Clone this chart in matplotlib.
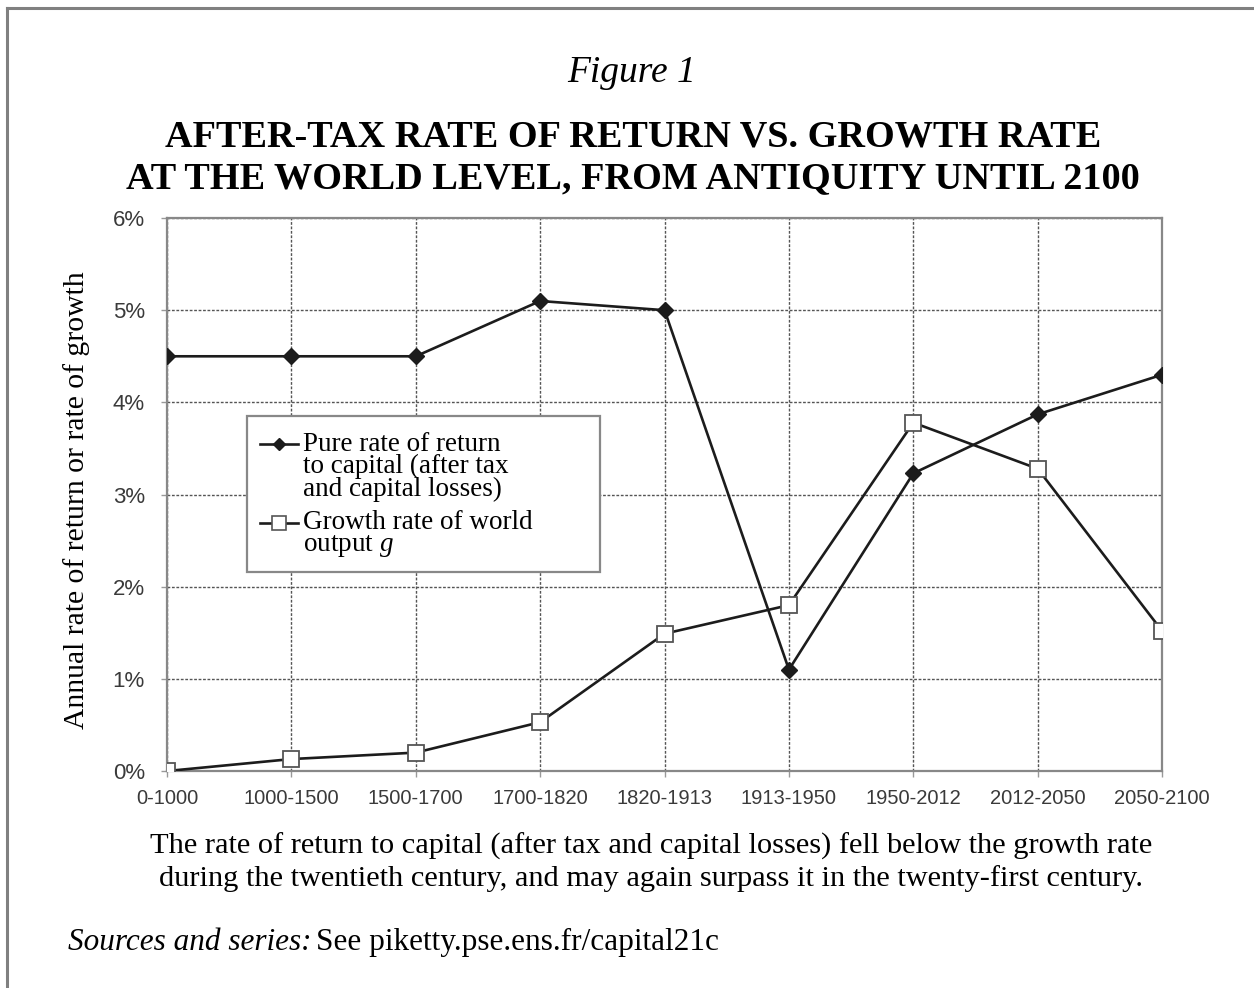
import matplotlib
matplotlib.use("Agg")
import matplotlib.pyplot as plt
from matplotlib.patches import Rectangle
from matplotlib.lines import Line2D
from matplotlib.ticker import FuncFormatter
from matplotlib.legend_handler import HandlerLine2D

plt.rcParams['font.family'] = ['Liberation Serif', 'DejaVu Serif']
plt.rcParams['mathtext.fontset'] = 'custom'
plt.rcParams['mathtext.it'] = 'Liberation Serif:italic'
plt.rcParams['mathtext.rm'] = 'Liberation Serif'

periods = ["0-1000", "1000-1500", "1500-1700", "1700-1820", "1820-1913",
           "1913-1950", "1950-2012", "2012-2050", "2050-2100"]
rate_of_return = [4.5, 4.5, 4.5, 5.1, 5.0, 1.1, 3.23, 3.87, 4.3]
growth_rate = [0.0, 0.13, 0.2, 0.53, 1.49, 1.8, 3.78, 3.28, 1.52]
y_ticks = [0, 1, 2, 3, 4, 5, 6]


class TopAlignedHandler(HandlerLine2D):
    """Place the legend sample at the first text line instead of the centre."""
    def __init__(self, shift, **kw):
        super().__init__(**kw)
        self.shift = shift

    def create_artists(self, legend, orig_handle, xdescent, ydescent,
                       width, height, fontsize, trans):
        return super().create_artists(legend, orig_handle, xdescent, ydescent,
                                      width, height + 2 * self.shift, fontsize, trans)


fig = plt.figure(figsize=(12.54, 9.88), dpi=100)
ax = fig.add_axes([0.1332, 0.2196, 0.7935, 0.5597])

x = list(range(len(periods)))
line_col = '#1c1c1c'
ax.plot(x, rate_of_return, color=line_col, lw=1.9, marker='D', markersize=8.5,
        markerfacecolor=line_col, markeredgecolor=line_col, zorder=5)
ax.plot(x, growth_rate, color=line_col, lw=1.9, marker='s', markersize=11,
        markerfacecolor='white', markeredgecolor='#555555', markeredgewidth=1.3, zorder=5)

ax.set_xlim(0, len(periods) - 1)
ax.set_ylim(0, 6)
ax.set_xticks(x)
ax.set_xticklabels(periods, family='Liberation Sans', fontsize=14.5, color='#3a3a3a')
ax.set_yticks(y_ticks)
ax.yaxis.set_major_formatter(FuncFormatter(lambda v, p: f"{int(v)}%"))
for lab in ax.get_yticklabels():
    lab.set_family('Liberation Sans')
    lab.set_fontsize(16)
    lab.set_color('#3a3a3a')
ax.tick_params(axis='both', length=4, width=1, color='#999999')
ax.tick_params(axis='x', pad=9)
ax.tick_params(axis='y', pad=12)

ax.grid(True, color='#555555', lw=1.0, linestyle=(0, (2, 1.2)), zorder=1)
ax.set_axisbelow(True)
for s in ax.spines.values():
    s.set_color('#888888')
    s.set_linewidth(1.6)

ax.set_ylabel("Annual rate of return or rate of growth", fontsize=21.3)
ax.yaxis.set_label_coords(-0.077, 0.49)

# legend box
box = Rectangle((0.0804, 0.360), 0.3546, 0.282, transform=ax.transAxes,
                facecolor='white', edgecolor='#888888', lw=1.6, zorder=3)
ax.add_patch(box)
h1 = Line2D([], [], color=line_col, lw=1.9, marker='D', markersize=6,
            markerfacecolor=line_col, markeredgecolor=line_col)
h2 = Line2D([], [], color=line_col, lw=1.9, marker='s', markersize=9.5,
            markerfacecolor='white', markeredgecolor='#555555', markeredgewidth=1.2)
leg = ax.legend([h1, h2],
                ["Pure rate of return\nto capital (after tax\nand capital losses)",
                 "Growth rate of world\noutput $g$"],
                loc='upper left', bbox_to_anchor=(0.0935, 0.613),
                frameon=False, fontsize=19.5, handlelength=1.4, handletextpad=0.2,
                labelspacing=0.32, borderpad=0.0, borderaxespad=0.0,
                handler_map={h1: TopAlignedHandler(16.6), h2: TopAlignedHandler(8.3)})
leg.set_zorder(4)
for t in leg.get_texts():
    t.set_linespacing(0.85)

# figure texts
fig.text(0.504, 0.926, "Figure 1", ha='center', va='center', fontsize=27, style='italic')
fig.text(0.505, 0.861, "AFTER-TAX RATE OF RETURN VS. GROWTH RATE", ha='center', va='center',
         fontsize=27.5, fontweight='bold')
fig.text(0.505, 0.819, "AT THE WORLD LEVEL, FROM ANTIQUITY UNTIL 2100", ha='center', va='center',
         fontsize=27.5, fontweight='bold')
fig.text(0.519, 0.143, "The rate of return to capital (after tax and capital losses) fell below the growth rate",
         ha='center', va='center', fontsize=21.9)
fig.text(0.519, 0.111, "during the twentieth century, and may again surpass it in the twenty-first century.",
         ha='center', va='center', fontsize=21.9)
t1 = fig.text(0.054, 0.046, "Sources and series:", ha='left', va='center', fontsize=22.5, style='italic')
fig.canvas.draw()
bb = t1.get_window_extent()
x1 = bb.x1 / fig.bbox.width
fig.text(x1 + 0.004, 0.046, "See piketty.pse.ens.fr/capital21c", ha='left', va='center', fontsize=22.5)

# figure border (left and top)
fig.add_artist(Line2D([0.0056, 0.0056], [0.0, 0.9919], transform=fig.transFigure,
                      color='#808080', lw=2.2))
fig.add_artist(Line2D([0.0056, 1.0], [0.9919, 0.9919], transform=fig.transFigure,
                      color='#808080', lw=2.2))

fig.savefig("out.png", dpi=100)
